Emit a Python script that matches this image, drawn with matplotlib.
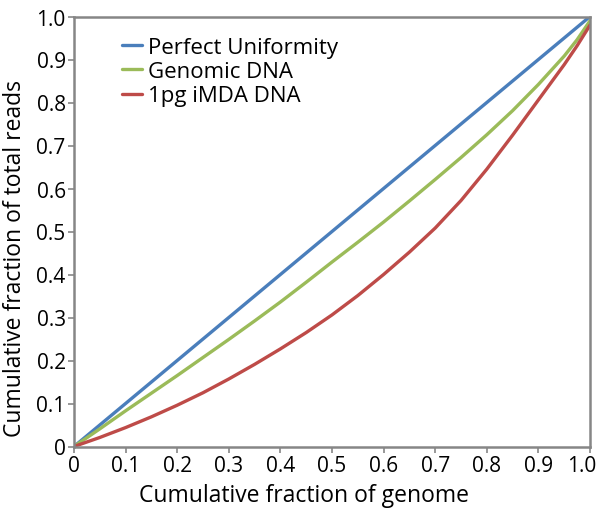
import matplotlib
matplotlib.use("Agg")
import matplotlib.pyplot as plt
from matplotlib.transforms import ScaledTranslation

plt.rcParams['font.family'] = ['Open Sans', 'DejaVu Sans']

x_genome = [0, 0.05, 0.1, 0.15, 0.2, 0.25, 0.3, 0.35, 0.4, 0.45, 0.5, 0.55, 0.6,
            0.65, 0.7, 0.75, 0.8, 0.85, 0.9, 0.95, 0.975, 1.0]
perfect = [0, 0.05, 0.1, 0.15, 0.2, 0.25, 0.3, 0.35, 0.4, 0.45, 0.5, 0.55, 0.6,
           0.65, 0.7, 0.75, 0.8, 0.85, 0.9, 0.95, 0.975, 1.0]
genomic = [0, 0.041, 0.083, 0.124, 0.165, 0.207, 0.249, 0.292, 0.336, 0.382, 0.429,
           0.475, 0.522, 0.571, 0.621, 0.672, 0.725, 0.781, 0.842, 0.908, 0.946, 0.99]
imda = [0, 0.021, 0.044, 0.069, 0.096, 0.125, 0.157, 0.191, 0.227, 0.265, 0.306,
        0.351, 0.400, 0.452, 0.508, 0.572, 0.645, 0.724, 0.806, 0.888, 0.932, 0.98]
series_names = ["Perfect Uniformity", "Genomic DNA", "1pg iMDA DNA"]
tick_vals = [0, 0.1, 0.2, 0.3, 0.4, 0.5, 0.6, 0.7, 0.8, 0.9, 1.0]
tick_labels = ["0", "0.1", "0.2", "0.3", "0.4", "0.5", "0.6", "0.7", "0.8", "0.9", "1.0"]

colors = ["#4a7ebb", "#9bbb59", "#be4b48"]

fig = plt.figure(figsize=(6, 5.1), dpi=100)
ax = fig.add_axes([74 / 600, (510 - 447.5) / 510, 516 / 600, 430 / 510])

for ys, name, c in zip([perfect, genomic, imda], series_names, colors):
    ax.plot(x_genome, ys, color=c, lw=2.4, label=name, solid_capstyle='round',
            solid_joinstyle='round')

ax.set_xlim(0, 1)
ax.set_ylim(0, 1)
ax.set_xticks(tick_vals)
ax.set_xticklabels(tick_labels)
ax.set_yticks(tick_vals)
ax.set_yticklabels(tick_labels)
ax.tick_params(axis='both', labelsize=15, length=4, width=1.2, color='#868686',
               direction='out', pad=2)
for s in ax.spines.values():
    s.set_color('#868686')
    s.set_linewidth(1.8)

last = ax.get_xticklabels()[-1]
last.set_transform(last.get_transform() + ScaledTranslation(-8 / 100, 0, fig.dpi_scale_trans))

ax.set_xlabel("Cumulative fraction of genome", fontsize=16.5)
ax.set_ylabel("Cumulative fraction of total reads", fontsize=16.5)
ax.xaxis.set_label_coords(0.445, -0.085)
ax.yaxis.set_label_coords(-0.092, 0.44)

leg = ax.legend(loc='upper left', bbox_to_anchor=(0.093, 0.953), frameon=False,
                fontsize=16, handlelength=0.9, handletextpad=0.27, labelspacing=0.15,
                borderaxespad=0, borderpad=0)

fig.savefig("out.png", dpi=100)
